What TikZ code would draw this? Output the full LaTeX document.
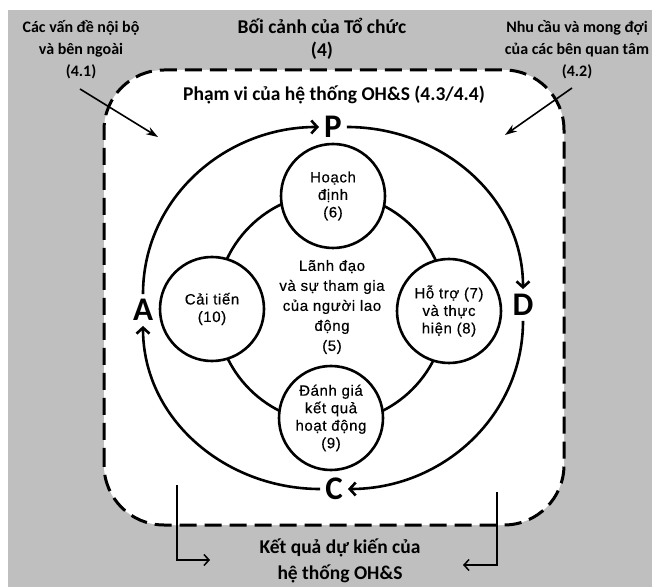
\documentclass[tikz,border=0pt]{standalone}
\usepackage{fontspec}
\setmainfont{Liberation Sans}
\newfontfamily\calfont{Carlito}
\newfontfamily\circfont[LetterSpace=4,FakeBold=0.4]{Liberation Sans}
\usetikzlibrary{arrows.meta}
\definecolor{bggray}{HTML}{BFBFBF}
\begin{document}
\begin{tikzpicture}[x=1pt,y=1pt,
  title/.style={font=\calfont\bfseries\fontsize{19.5}{23}\selectfont, align=center, inner sep=0},
  side/.style={font=\calfont\bfseries\fontsize{16}{22}\selectfont, align=center, inner sep=0},
  letter/.style={font=\calfont\bfseries\fontsize{33}{33}\selectfont, inner sep=5pt},
  stage/.style={circle, draw, fill=white, line width=2.6pt, minimum size=104pt, inner sep=0,
    align=center, font=\circfont\fontsize{15}{17.5}\selectfont},
  cyc/.style={line width=2.6pt, -{Straight Barb[length=6pt,width=13pt]}},
  diag/.style={line width=1.6pt, -{Stealth[length=12pt,width=8pt]}},
  elbow/.style={line width=1.5pt, -{Straight Barb[length=5pt,width=11pt]}},
  scopebox/.style={draw, fill=white, line width=3pt, dash pattern=on 17pt off 8pt, rounded corners=60pt}
]
\useasboundingbox (0,0) rectangle (659,587);
\fill[bggray] (8,0) rectangle (652,577);
\draw[scopebox] (104,62) rectangle (564,517);

% context labels
\node[title] (ctx) at (322,548) {Bối cảnh của Tổ chức\\(4)};
\node[side] (iss) at (81,537) {Các vấn đề nội bộ\\và bên ngoài\\(4.1)};
\node[side] (need) at (577,537) {Nhu cầu và mong đợi\\của các bên quan tâm\\(4.2)};
\node[title] (scope) at (334,492) {Phạm vi của hệ thống OH\&S (4.3/4.4)};
\node[title, font=\calfont\bfseries\fontsize{19.5}{26}\selectfont] (out) at (340,26) {Kết quả dự kiến của\\hệ thống OH\&S};

% inner ring and stages
\node[circle, draw, line width=2.6pt, minimum size=230pt, inner sep=0] (ring) at (331,279) {};
\node[align=center, inner sep=0, font=\circfont\fontsize{15}{20}\selectfont] (lead) at (332,280)
  {Lãnh đạo\\và sự tham gia\\của người lao\\động\\(5)};
\node[stage] (plan) at (333,391) {Hoạch\\định\\(6)};
\node[stage] (impr) at (212,278) {Cải tiến\\(10)};
\node[stage] (supp) at (449,276) {Hỗ trợ (7)\\và thực\\hiện (8)};
\node[stage] (eval) at (331,169) {Đánh giá\\kết quả\\hoạt động\\(9)};

% PDCA letters
\node[letter] (P) at (333,460) {P};
\node[letter] (D) at (523,282) {D};
\node[letter] (C) at (334,98) {C};
\node[letter] (A) at (143,277) {A};

\draw[cyc] (P) to[out=0,in=90] (D);
\draw[cyc] (D) to[out=-90,in=0] (C);
\draw[cyc] (C) to[out=180,in=-90] (A);
\draw[cyc] (A) to[out=90,in=180] (P);

% inputs
\coordinate (a1s) at (80,498);
\coordinate (a1e) at (158,450);
\coordinate (a2s) at (572,499);
\coordinate (a2e) at (505,452);
\draw[diag] (a1s) -- (a1e);
\draw[diag] (a2s) -- (a2e);

% outputs
\coordinate (lt) at (177,102);
\coordinate (lh) at (210,27);
\coordinate (rt) at (497,95);
\coordinate (rh) at (463,22);
\draw[elbow] (lt) |- (lh);
\draw[elbow] (rt) |- (rh);
\end{tikzpicture}
\end{document}
